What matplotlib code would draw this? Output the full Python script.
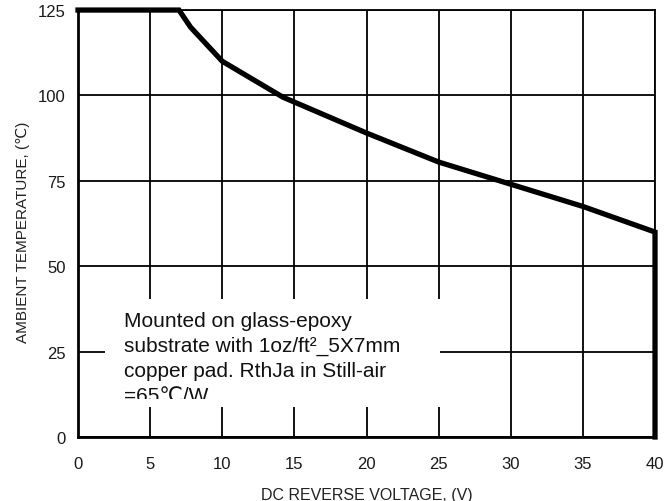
import matplotlib.pyplot as plt
from matplotlib.patches import Rectangle

plt.rcParams['font.family'] = ['Liberation Sans', 'DejaVu Sans']

# derating curve
volts = [0, 7.0, 7.8, 10, 14.2, 20, 25, 30, 35, 40, 40]
temps = [125, 125, 120, 110, 99.5, 89, 80.5, 74, 67.5, 60, 0]

xticks = [0, 5, 10, 15, 20, 25, 30, 35, 40]
yticks = [0, 25, 50, 75, 100, 125]

note = ("Mounted on glass-epoxy\n"
        "substrate with 1oz/ft\u00b2_5X7mm\n"
        "copper pad. RthJa in Still-air\n"
        "=65\u2103/W")

fig = plt.figure(figsize=(6.69, 5.02), dpi=100)
ax = fig.add_axes([0.1166, 0.1275, 0.8625, 0.8505])

ax.plot(volts, temps, color='black', lw=3.8, solid_joinstyle='miter', zorder=4, clip_on=False)

ax.set_xlim(0, 40)
ax.set_ylim(0, 125)
ax.set_xticks(xticks)
ax.set_yticks(yticks)
ax.grid(True, color='black', lw=1.3)
ax.set_axisbelow(True)
for s in ax.spines.values():
    s.set_linewidth(1.3)
ax.spines['left'].set_linewidth(2.0)
ax.spines['bottom'].set_linewidth(2.0)

ax.tick_params(axis='x', length=0, pad=14, labelsize=12, labelcolor='#1a1a1a')
ax.tick_params(axis='y', length=0, pad=9, labelsize=12, labelcolor='#1a1a1a')

ax.set_xlabel('DC REVERSE VOLTAGE, (V)', fontsize=11.5, color='#222222', labelpad=11)
ax.set_ylabel('AMBIENT TEMPERATURE, (\u2103)', fontsize=11, color='#222222')
ax.yaxis.set_label_coords(-0.084, 0.482)

# white note box that hides the grid, text clipped at its bottom
box = Rectangle((1.87, 8.8), 23.2, 31.6, facecolor='white', edgecolor='none', zorder=2)
ax.add_patch(box)
clip = Rectangle((1.87, 11.0), 23.2, 29.4, transform=ax.transData)
t = ax.text(3.2, 36.9, note, fontsize=15, va='top', ha='left', color='#111111',
            linespacing=1.40, zorder=3)
t.set_clip_on(True)
t.set_clip_path(clip)

fig.savefig('out.png', dpi=100)
